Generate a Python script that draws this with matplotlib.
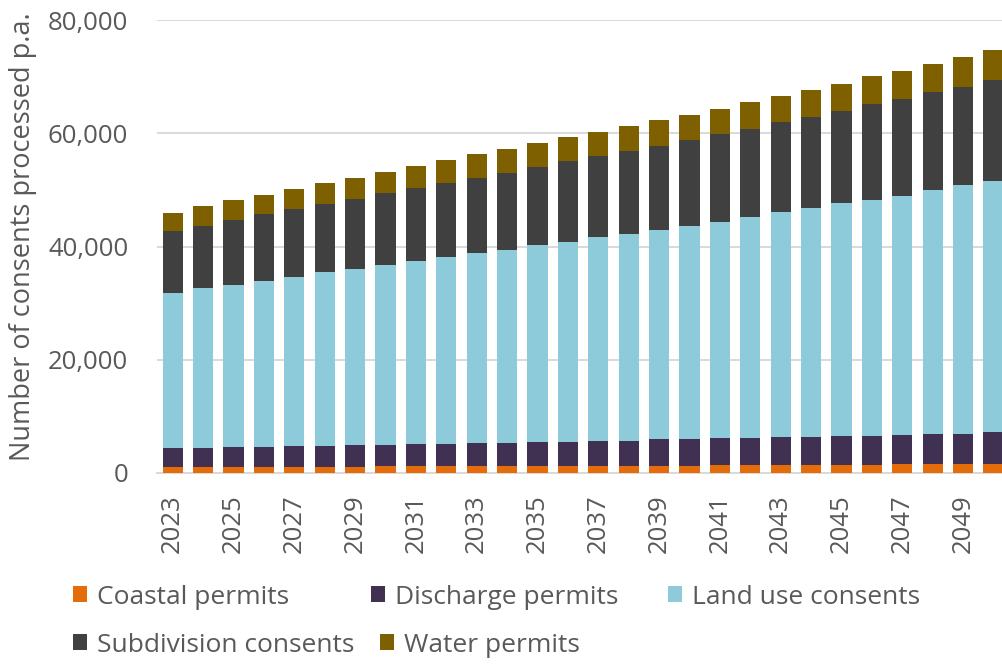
import matplotlib
matplotlib.use("Agg")
import matplotlib.pyplot as plt
import numpy as np

plt.rcParams['font.family'] = ['Open Sans', 'DejaVu Sans']

years = list(range(2023, 2051))

coastal = [1100, 1100, 1100, 1100, 1100, 1100, 1100, 1200, 1200, 1200,
           1200, 1200, 1200, 1300, 1300, 1300, 1300, 1300, 1400, 1400,
           1400, 1400, 1400, 1400, 1600, 1600, 1600, 1600]
discharge = [3250, 3250, 3500, 3500, 3650, 3650, 3900, 3800, 3950, 3950,
             4150, 4150, 4350, 4250, 4400, 4400, 4650, 4650, 4750, 4750,
             4950, 4950, 5200, 5200, 5150, 5350, 5350, 5600]
land_use = [27450, 28250, 28550, 29350, 29850, 30700, 30950, 31800, 32250, 33050,
            33450, 34100, 34650, 35250, 36000, 36500, 37000, 37700, 38250, 39050,
            39700, 40450, 41050, 41550, 42200, 43050, 43900, 44400]
subdivision = [10950, 11050, 11550, 11800, 11950, 12050, 12500, 12600, 12900, 12950,
               13250, 13600, 13800, 14250, 14350, 14650, 14850, 15100, 15450, 15600,
               16000, 16100, 16350, 16950, 17050, 17250, 17350, 17750]
water = [3100, 3500, 3450, 3400, 3600, 3650, 3650, 3750, 3900, 4150,
         4300, 4200, 4300, 4250, 4250, 4500, 4500, 4550, 4400, 4650,
         4600, 4750, 4800, 4950, 5050, 5000, 5200, 5300]

series_names = ["Coastal permits", "Discharge permits", "Land use consents",
                "Subdivision consents", "Water permits"]
series_values = [coastal, discharge, land_use, subdivision, water]
series_colors = ["#E46C0A", "#403152", "#8ECBDA", "#404040", "#7F6000"]

y_ticks = [0, 20000, 40000, 60000, 80000]
x_tick_years = years[::2]

TEXT = '#595959'
W, H = 1003, 666

fig = plt.figure(figsize=(W / 100, H / 100), dpi=100)
ax = fig.add_axes([0.157, 0.2898, 0.8487, 0.680])

bottom = np.zeros(len(years))
handles = []
for name, vals, col in zip(series_names, series_values, series_colors):
    h = ax.bar(years, vals, bottom=bottom, width=0.66, color=col, label=name,
               zorder=3, linewidth=0)
    handles.append(h)
    bottom += np.array(vals)

ax.set_xlim(2022.5, 2050.5)
ax.set_ylim(0, 80000)
ax.set_yticks(y_ticks)
ax.set_yticklabels([f"{v:,}" for v in y_ticks])
ax.set_xticks(x_tick_years)
ax.set_xticklabels([str(y) for y in x_tick_years], rotation=90)

ax.grid(axis='y', color='#D9D9D9', linewidth=1.4, zorder=0)
for side in ['top', 'right', 'left']:
    ax.spines[side].set_visible(False)
ax.spines['bottom'].set_color('#D9D9D9')
ax.spines['bottom'].set_linewidth(1.4)

ax.tick_params(axis='both', length=0, labelsize=18.5, labelcolor=TEXT)
ax.tick_params(axis='y', pad=21)
ax.tick_params(axis='x', pad=15.5)

ax.set_ylabel("Number of consents processed p.a.", fontsize=19.5, color=TEXT)
ax.yaxis.set_label_coords(-0.1416, 0.521)

# Legend entries laid out on a fixed grid (left edge of swatch, row centre) in pixels
legend_slots = [(73, 597), (371, 597), (668, 597), (73, 645), (380, 645)]
for h, name, (px, py) in zip(handles, series_names, legend_slots):
    fig.legend([h], [name], loc='center left',
               bbox_to_anchor=(px / W, 1 - py / H),
               frameon=False, fontsize=19, labelcolor=TEXT,
               handlelength=0.53, handleheight=0.53, handletextpad=0.38,
               borderpad=0, borderaxespad=0)

fig.savefig("out.png", dpi=100)
